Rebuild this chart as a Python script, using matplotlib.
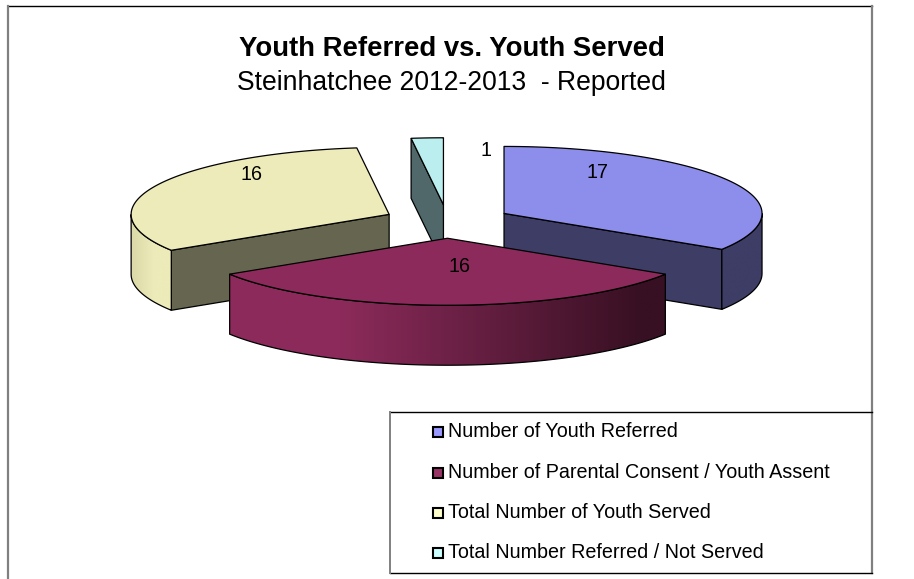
#!/usr/bin/env python3
import numpy as np
import matplotlib
matplotlib.use("Agg")
import matplotlib.pyplot as plt
from matplotlib.colors import to_rgb
from matplotlib.patches import Polygon, Rectangle

categories = ["Number of Youth Referred", "Number of Parental Consent / Youth Assent",
              "Total Number of Youth Served", "Total Number Referred / Not Served"]
values = [17, 16, 16, 1]
top_colors = ["#8d8dec", "#8c2b5b", "#ecebb9", "#bbeeee"]
wall_colors = ["#3d3d66", "#666650", "#666650", "#50686a"]
legend_colors = ["#9999ff", "#993366", "#ffffcc", "#ccffff"]

plt.rcParams["font.family"] = ["Liberation Sans", "DejaVu Sans"]

W, H = 914, 579
CX, CY = 447.5, 221.5   # pie centre in pixels
RX, RY = 258, 67        # top ellipse radii
DEPTH = 60
EXPLODE = 0.25

fig = plt.figure(figsize=(W / 100, H / 100), dpi=100)
ax = fig.add_axes([0, 0, 1, 1])


def rim(cx, cy, a0, a1, n=120):
    # angles in degrees, clockwise from 12 o'clock
    t = np.radians(np.linspace(a0, a1, n))
    return np.column_stack([cx + RX * np.sin(t), cy - RY * np.cos(t)])


def lerp(c0, c1, f):
    c0, c1 = np.array(to_rgb(c0)), np.array(to_rgb(c1))
    return tuple(c0 + (c1 - c0) * f)


def curved_wall(cx, cy, a0, a1, color_at):
    # outer side of a slice, front part only: horizontal gradient clipped to the wall shape
    a0, a1 = max(a0, 90), min(a1, 270)
    if a1 <= a0:
        return
    pts = rim(cx, cy, a0, a1, 160)
    x0, x1 = pts[:, 0].min(), pts[:, 0].max()
    y0, y1 = pts[:, 1].min(), pts[:, 1].max() + DEPTH
    xs = np.linspace(x0, x1, 300)
    img = np.array([[color_at(x) for x in xs]])
    im = ax.imshow(img, extent=(x0, x1, y1, y0), aspect="auto", zorder=z, interpolation="bilinear")
    outline = Polygon(np.vstack([pts, pts[::-1] + [0, DEPTH]]), closed=True, transform=ax.transData)
    im.set_clip_path(outline)
    ax.add_patch(Polygon(np.vstack([pts, pts[::-1] + [0, DEPTH]]), closed=True, fc="none", ec="black",
                         lw=0.9, zorder=z + 0.1))


def flat_wall(cx, cy, angle, color):
    p = rim(cx, cy, angle, angle, 1)[0]
    c = np.array([cx, cy])
    ax.add_patch(Polygon([c, p, p + [0, DEPTH], c + [0, DEPTH]], fc=color, ec="black", lw=0.9, zorder=z))


def maroon_shade(x):
    if x < 340:
        return to_rgb("#8c2b5b")
    return lerp("#8c2b5b", "#381023", min((x - 340) / 300, 1))


def yellow_shade(x):
    return lerp("#dcd9a8", "#ecebb9", min((x - 132) / 22, 1))


def blue_shade(x):
    return to_rgb("#3d3d66")


# slice angles come from the values
total = sum(values)
edges = np.concatenate([[0], np.cumsum(values)]) * 360 / total
shades = [blue_shade, maroon_shade, yellow_shade, None]
draw_order = [3, 2, 0, 1]       # back to front

for i in draw_order:
    z = 2 + draw_order.index(i)
    a0, a1 = edges[i], edges[i + 1]
    mid = np.radians((a0 + a1) / 2)
    cx = CX + EXPLODE * RX * np.sin(mid)
    cy = CY - EXPLODE * RY * np.cos(mid)
    # radial side that faces the viewer
    if i == 0:
        flat_wall(cx, cy, a1, wall_colors[i])
    elif i in (2, 3):
        flat_wall(cx, cy, a0, wall_colors[i])
    if shades[i] is not None:
        curved_wall(cx, cy, a0, a1, shades[i])
    top = np.vstack([[cx, cy], rim(cx, cy, a0, a1)])
    ax.add_patch(Polygon(top, closed=True, fc=top_colors[i], ec="black", lw=0.9, zorder=z + 0.2, joinstyle="round"))

ax.set_xlim(0, W)
ax.set_ylim(H, 0)
ax.axis("off")

# data labels
label_xy = [(597, 172), (460, 267), (251, 175), (486, 150)]
for v, (lx, ly) in zip(values, label_xy):
    ax.text(lx, ly, str(v), fontsize=14.2, ha="center", va="center", zorder=10)

# titles
ax.text(451.5, 49, "Youth Referred vs. Youth Served", fontsize=19.8, fontweight="bold",
        ha="center", va="center")
ax.text(451.5, 83, "Steinhatchee 2012-2013  - Reported", fontsize=19.1, ha="center", va="center")

# chart frame: no line along the bottom left of the legend
ax.plot([8, 872], [5.5, 5.5], color="black", lw=1, zorder=20)
ax.plot([8, 8], [5.5, H], color="#808080", lw=1.6, zorder=20)
ax.plot([872, 872], [5.5, 573], color="#808080", lw=1.6, zorder=20)

# legend box
ax.plot([390, 872], [412, 412], color="black", lw=1, zorder=20)
ax.plot([390, 872], [573, 573], color="black", lw=1, zorder=20)
ax.plot([390, 390], [412, 573], color="#808080", lw=1.4, zorder=20)
legend_y = [431.5, 472, 512, 552.5]
for name, col, ly in zip(categories, legend_colors, legend_y):
    ax.add_patch(Rectangle((433, ly - 4.5), 10, 10, fc=col, ec="black", lw=1.5, zorder=21))
    ax.text(448, ly, name, fontsize=14.2, ha="left", va="center", zorder=21)

fig.savefig("out.png", dpi=100)
